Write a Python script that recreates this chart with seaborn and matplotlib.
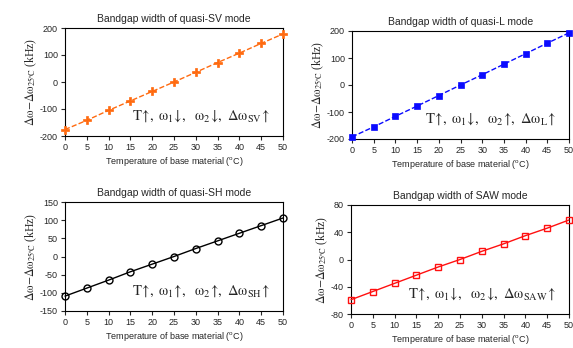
import numpy as np
import seaborn as sns
import matplotlib.pyplot as plt

# === data ===
temps = [0, 5, 10, 15, 20, 25, 30, 35, 40, 45, 50]
sv_vals = [-176, -142, -105, -70, -35, 0, 36, 72, 107, 143, 178]
l_vals = [-192, -155, -116, -78, -39, 0, 38, 77, 116, 155, 193]
sh_vals = [-109, -87, -65, -42, -21, 0, 22, 43, 64, 85, 106]
saw_vals = [-59, -47, -35, -23, -11, 0, 12, 23, 35, 46, 58]

titles = ["Bandgap width of quasi-SV mode", "Bandgap width of quasi-L mode",
          "Bandgap width of quasi-SH mode", "Bandgap width of SAW mode"]
arrows = [("downarrow", "downarrow", "SV"), ("downarrow", "uparrow", "L"),
          ("uparrow", "uparrow", "SH"), ("downarrow", "downarrow", "SAW")]
yticks = [[-200, -100, 0, 100, 200], [-200, -100, 0, 100, 200],
          [-150, -100, -50, 0, 50, 100, 150], [-80, -40, 0, 40, 80]]

sns.set_style("ticks")
plt.rcParams["font.family"] = ["Liberation Sans", "DejaVu Sans"]
plt.rcParams["mathtext.fontset"] = "stix"
plt.rcParams["axes.linewidth"] = 0.8
plt.rcParams["axes.unicode_minus"] = False

fig = plt.figure(figsize=(5.73, 3.48), dpi=100)
W, H = 573, 348
boxes = [(65, 28, 283, 136), (352, 31, 569, 139), (65, 202, 283, 311), (351, 205, 569, 314)]
axes = [fig.add_axes([l / W, 1 - b / H, (r - l) / W, (b - t) / H]) for l, t, r, b in boxes]

styles = [
    dict(y=sv_vals, color="#FF6A0F", marker="P", linestyle="--", ms=6, mfc="#FF6A0F", mew=0.5),
    dict(y=l_vals, color="#0A0AFF", marker="s", linestyle="--", ms=5, mfc="#0A0AFF", mew=0.5),
    dict(y=sh_vals, color="black", marker="o", linestyle="-", ms=5, mfc="none", mew=1.0),
    dict(y=saw_vals, color="#FF1010", marker="s", linestyle="-", ms=5, mfc="none", mew=1.0),
]

for i, ax in enumerate(axes):
    st = styles[i]
    sns.lineplot(x=temps, y=st["y"], ax=ax, color=st["color"], marker=st["marker"],
                 linestyle=st["linestyle"], markersize=st["ms"], markerfacecolor=st["mfc"],
                 markeredgecolor=st["color"], markeredgewidth=st["mew"], linewidth=1.0,
                 clip_on=False, zorder=3)
    ax.set_xlim(0, 50)
    ax.set_xticks(range(0, 51, 5))
    ax.set_ylim(yticks[i][0], yticks[i][-1])
    ax.set_yticks(yticks[i])
    ax.tick_params(labelsize=6.5, length=3, width=0.8, direction="out", pad=2)
    for s in ax.spines.values():
        s.set_visible(True)
        s.set_color("black")
    ax.set_title(titles[i], fontsize=7.5, pad=4)
    ax.set_xlabel("Temperature of base material ($^{\\mathregular{o}}$C)", fontsize=6.5, labelpad=2)
    ax.set_ylabel(r"$\mathrm{\Delta\omega\!-\!\Delta\omega_{25^{\circ}\!C}}$ (kHz)",
                  fontsize=8.5, family="Liberation Serif", labelpad=1)
    a1, a2, sub = arrows[i]
    note = (r"$\mathrm{T}\!\uparrow\!,\ \mathrm{\omega_1}\!\%s\!,\ \ \mathrm{\omega_2}\!\%s\!,"
            r"\ \mathrm{\Delta\omega_{%s}}\!\uparrow$" % (a1, a2, sub))
    ax.text(0.94, 0.18, note, transform=ax.transAxes, ha="right", va="center", fontsize=10.5)

plt.savefig("out.png", dpi=100)
